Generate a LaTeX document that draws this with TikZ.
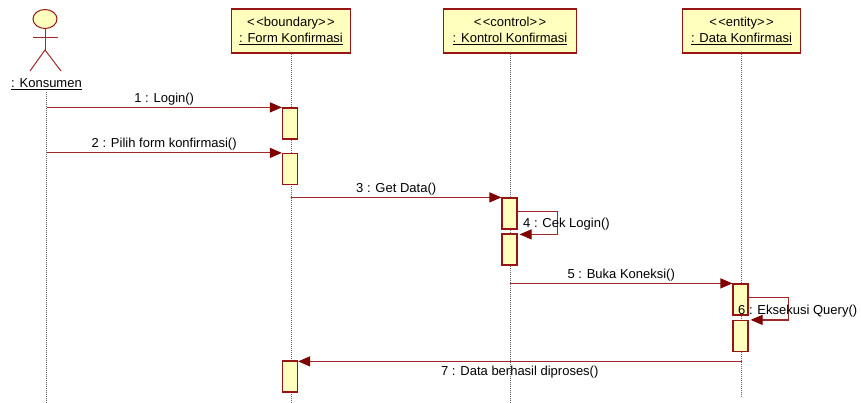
\documentclass[tikz,border=0pt]{standalone}
\usepackage{fontspec}
\setmainfont{Liberation Sans}
\usetikzlibrary{arrows.meta}
\definecolor{umlline}{RGB}{160,40,40}
\definecolor{umlborder}{RGB}{150,20,20}
\definecolor{umltip}{RGB}{128,0,0}
\definecolor{umlfill}{RGB}{255,255,190}
\newcommand{\stereo}[1]{<\kern1.5pt<#1>\kern1.5pt>}
\tikzset{
  object/.style={draw=umlborder, fill=umlfill, line width=1.2pt, minimum height=44pt,
    inner sep=0pt, align=center, font=\fontsize{13}{15.5}\selectfont},
  activation/.style={draw=umlborder, fill=umlfill, line width=1.2pt,
    minimum width=15pt, minimum height=31pt, inner sep=0pt},
  lifeline/.style={draw=black!60, line width=0.8pt, dash pattern=on 1pt off 1pt},
  msg/.style={draw=umlline, line width=1.2pt,
    -{Triangle[length=12pt,width=10pt,fill=umltip,color=umltip]}},
  msglabel/.style={font=\fontsize{13}{15.5}\selectfont, inner sep=2pt}
}
\begin{document}
\begin{tikzpicture}[x=1pt,y=-1pt]
  \useasboundingbox (0,0) rectangle (861,403);
  % actor
  \draw[umlborder, fill=umlfill, line width=1pt] (45,19) ellipse (12 and 9.5);
  \draw[umlline, line width=1pt] (45,28.5) -- (45,50);
  \draw[umlline, line width=1pt] (33,38) -- (58,38);
  \draw[umlline, line width=1pt] (30,71) -- (45,50) -- (61,71);
  \node[msglabel] (konsumen) at (46.5,84) {\underline{: Konsumen}};
  % objects
  \node[object, minimum width=119pt] (form) at (291,31) {\stereo{boundary}\\\underline{: Form Konfirmasi}};
  \node[object, minimum width=133pt] (kontrol) at (510,31) {\stereo{control}\\\underline{: Kontrol Konfirmasi}};
  \node[object, minimum width=118pt] (data) at (741.5,31) {\stereo{entity}\\\underline{: Data Konfirmasi}};
  % lifelines
  \coordinate (kend) at (46.5,403);
  \coordinate (fend) at (291,403);
  \coordinate (cend) at (510,403);
  \coordinate (dend) at (741.5,397);
  \draw[lifeline] (konsumen.south) -- (kend);
  \draw[lifeline] (form.south) -- (fend);
  \draw[lifeline] (kontrol.south) -- (cend);
  \draw[lifeline] (data.south) -- (dend);
  % activations
  \node[activation] (f1) at (290,123.5) {};
  \node[activation] (f2) at (290,169) {};
  \node[activation] (c1) at (509.5,213.5) {};
  \node[activation] (c2) at (509.5,249.5) {};
  \node[activation] (d1) at (740.5,299.5) {};
  \node[activation] (d2) at (740.5,336) {};
  \node[activation] (f3) at (290,376.5) {};
  % messages
  \draw[msg] (konsumen |- f1.north west) -- (f1.north west)
    node[msglabel, midway, above=0pt] {1 : Login()};
  \draw[msg] (konsumen |- f2.north west) -- (f2.north west)
    node[msglabel, midway, above=0pt] {2 : Pilih form konfirmasi()};
  \draw[msg] (form |- c1.north west) -- (c1.north west)
    node[msglabel, midway, above=0pt] {3 : Get Data()};
  \draw[msg] ([yshift=-14pt]c1.north east) -- ++(40,0) |- ([xshift=2pt,yshift=-1pt]c2.north east);
  \node[msglabel, anchor=west] (m4) at (521,224) {4 : Cek Login()};
  \draw[msg] (kontrol |- d1.north west) -- (d1.north west)
    node[msglabel, midway, above=0pt] {5 : Buka Koneksi()};
  \draw[msg] ([yshift=-14pt]d1.north east) -- ++(40,0) |- ([xshift=2pt]d2.north east);
  \node[msglabel, anchor=west] (m6) at (736,311) {6 : Eksekusi Query()};
  \draw[msg] ([yshift=-1pt]data |- f3.north east) -- ([yshift=-1pt]f3.north east)
    node[msglabel, midway, below=2pt] {7 : Data berhasil diproses()};
\end{tikzpicture}
\end{document}
